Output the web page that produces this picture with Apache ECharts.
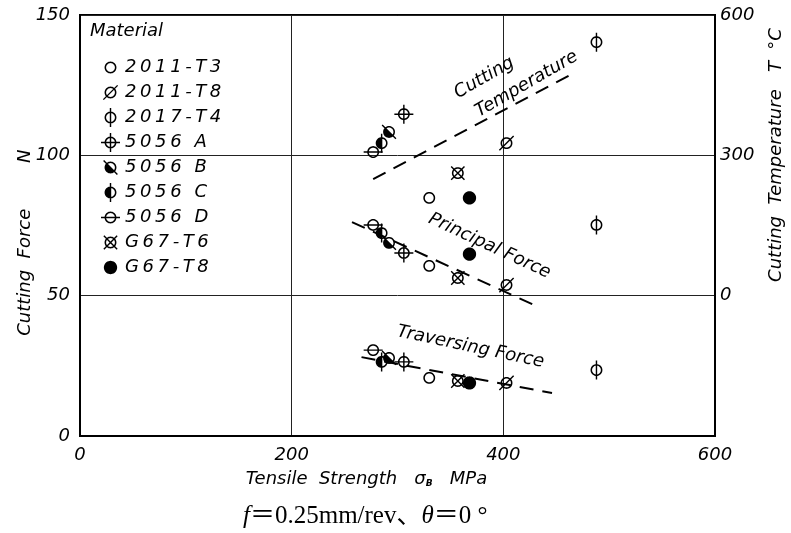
<!DOCTYPE html>
<html>
<head>
<meta charset="utf-8">
<script src="https://cdn.jsdelivr.net/npm/echarts@6/dist/echarts.min.js"></script>
<style>
  html, body { margin: 0; background: #fff; }
  #chart { width: 791px; height: 533px; }
</style>
</head>
<body>
<div id="chart"></div>
<script>
// values
var materials = ['2011-T3', '2011-T8', '2017-T4', '5056 A', '5056 B', '5056 C', '5056 D', 'G67-T6', 'G67-T8'];
var strength = [330, 403, 488, 306, 292, 285, 277, 357, 368];          // MPa
var principalForce = [60.6, 53.8, 75.2, 65.2, 68.8, 72.3, 75.2, 56.3, 64.8];  // N
var traversingForce = [20.7, 18.9, 23.5, 26.4, 27.8, 26.4, 30.6, 19.6, 18.9]; // N
var temperature = [209, 326, 542, 388, 350, 326, 307, 262, 209];        // deg C
var tempTrend = [[277, 249], [466, 475]];
var principalTrend = [[257, 76.2], [433, 46.0]];
var traverseTrend = [[266, 28.1], [446, 15.3]];
var forceTicks = [0, 50, 100, 150];
var tempTicks = [-300, 0, 300, 600];

var font = '"DejaVu Sans"';

// glyph helpers: everything is built as filled polygons in a -8..8 box
function arcPts(r, a0, a1, n) {
  var out = [];
  for (var k = 0; k <= n; k++) {
    var a = a0 + (a1 - a0) * k / n;
    out.push([r * Math.cos(a), r * Math.sin(a)]);
  }
  return out;
}
function poly(p, sign) {
  var area = 0;
  for (var i = 0; i < p.length; i++) {
    var q = p[(i + 1) % p.length];
    area += p[i][0] * q[1] - q[0] * p[i][1];
  }
  if (area * sign < 0) p = p.slice().reverse();
  return 'M ' + p.map(function (q) { return q[0].toFixed(2) + ' ' + q[1].toFixed(2); }).join(' L ') + ' Z';
}
function bar(x1, y1, x2, y2, w) {
  var dx = x2 - x1, dy = y2 - y1, l = Math.sqrt(dx * dx + dy * dy);
  var nx = -dy / l * w / 2, ny = dx / l * w / 2;
  return poly([[x1 + nx, y1 + ny], [x2 + nx, y2 + ny], [x2 - nx, y2 - ny], [x1 - nx, y1 - ny]], 1);
}
var R = 5, T = 1.3, W = 1.2, PI = Math.PI;
var ring = [poly(arcPts(R, 0, 2 * PI, 40), 1), poly(arcPts(R - T, 0, 2 * PI, 40), -1)];
function half(a0, a1) { return poly(arcPts(R - 0.3, a0, a1, 20), 1); }
function glyph(parts) {
  return 'path://' + parts.join(' ') + ' M -8 -8 L -8 -8 Z M 8 8 L 8 8 Z';
}
var glyphs = {
  '2011-T3': glyph(ring),
  '2011-T8': glyph(ring.concat([bar(-6, 6, 6, -6, W)])),
  '2017-T4': glyph(ring.concat([bar(0, -8, 0, 8, W)])),
  '5056 A': glyph(ring.concat([bar(0, -8, 0, 8, W), bar(-8, 0, 8, 0, W)])),
  '5056 B': glyph(ring.concat([half(PI / 4, 5 * PI / 4), bar(-5.8, -5.8, 5.8, 5.8, W)])),
  '5056 C': glyph(ring.concat([half(PI / 2, 3 * PI / 2), bar(0, -8, 0, 8, W)])),
  '5056 D': glyph(ring.concat([bar(-8, 0, 8, 0, W)])),
  'G67-T6': glyph(ring.concat([bar(-5.6, -5.6, 5.6, 5.6, W), bar(-5.6, 5.6, 5.6, -5.6, W)])),
  'G67-T8': glyph([poly(arcPts(5.6, 0, 2 * PI, 40), 1)])
};

var series = [];
function trend(data, axis) {
  series.push({
    type: 'line', yAxisIndex: axis, data: data, symbol: 'none', silent: true, z: 2,
    lineStyle: { color: '#000', width: 2, type: [14, 9], opacity: 1 }
  });
}
trend(tempTrend, 1);
trend(principalTrend, 0);
trend(traverseTrend, 0);

materials.forEach(function (m, i) {
  var common = { name: m, type: 'scatter', symbol: glyphs[m], symbolSize: 19, z: 3,
    itemStyle: { color: '#000', borderWidth: 0, opacity: 1 } };
  series.push(Object.assign({}, common, {
    yAxisIndex: 0,
    data: [[strength[i], principalForce[i]], [strength[i], traversingForce[i]]]
  }));
  series.push(Object.assign({}, common, {
    yAxisIndex: 1,
    data: [[strength[i], temperature[i]]]
  }));
});

var labelStyle = { fontFamily: font, fontStyle: 'italic', fontSize: 18, color: '#000' };

var option = {
  backgroundColor: '#fff',
  animation: false,
  grid: { left: 80, right: 76, top: 15, bottom: 97, show: true, borderColor: '#000', borderWidth: 2,
    containLabel: false, outerBoundsMode: 'none' },
  title: {
    text: '{i|f}\uFF1D0.25mm/rev\u3001{i|\u03B8}\uFF1D0 \u00B0',
    left: 238, top: 499,
    textStyle: {
      fontFamily: "'Liberation Serif', 'Noto Sans CJK JP'", fontSize: 25, fontWeight: 'normal', color: '#000',
      rich: { i: { fontFamily: "'Liberation Serif'", fontStyle: 'italic', fontSize: 25, color: '#000' } }
    }
  },
  legend: {
    data: materials, orient: 'vertical', left: 96, top: 53,
    itemWidth: 19, itemHeight: 19, itemGap: 6, selectedMode: false,
    itemStyle: { borderWidth: 0, opacity: 1 },
    textStyle: labelStyle,
    formatter: function (n) { return n.split('').join('\u2009'); }
  },
  xAxis: {
    type: 'value', min: 0, max: 600, interval: 200,
    name: 'Tensile  Strength   \u03C3{sub|B}   MPa', nameLocation: 'middle', nameGap: 34,
    nameMoveOverlap: false,
    nameTextStyle: Object.assign({}, labelStyle, { padding: [0, 62, 0, 0],
      rich: { sub: { fontFamily: font, fontSize: 9, fontWeight: 'bold', color: '#000', verticalAlign: 'bottom', padding: [6, 0, 0, 0] } } }),
    axisLine: { lineStyle: { color: '#000', width: 2 } },
    axisTick: { show: false },
    axisLabel: Object.assign({}, labelStyle, { margin: 10, showMinLabel: true, showMaxLabel: true }),
    splitLine: { show: true, lineStyle: { color: '#222', width: 1 } }
  },
  yAxis: [{
    type: 'value', min: forceTicks[0], max: forceTicks[3], interval: 50,
    name: 'Cutting  Force        N      ', nameLocation: 'middle', nameRotate: 90, nameGap: 46,
    nameMoveOverlap: false,
    nameTextStyle: labelStyle,
    axisLine: { show: true, lineStyle: { color: '#000', width: 2 } },
    axisTick: { show: false },
    axisLabel: Object.assign({}, labelStyle, { margin: 10, showMinLabel: true, showMaxLabel: true }),
    splitLine: { show: true, lineStyle: { color: '#222', width: 1 } }
  }, {
    type: 'value', min: tempTicks[0], max: tempTicks[3], interval: 300, position: 'right',
    axisLine: { show: true, lineStyle: { color: '#000', width: 2 } },
    axisTick: { show: false },
    axisLabel: Object.assign({}, labelStyle, { margin: 5, showMinLabel: true, showMaxLabel: true,
      formatter: function (v) { return v < 0 ? '' : String(v); } }),
    splitLine: { show: false }
  }],
  series: series
};

var chart = echarts.init(document.getElementById('chart'), null, { renderer: 'canvas' });
chart.setOption(option);

// curve labels, placed in data units of the force axis
var notes = [
  { text: 'Cutting', at: [382, 127.6], angle: 30 },
  { text: 'Temperature', at: [422, 125.4], angle: 30 },
  { text: 'Principal Force', at: [387, 67.7], angle: -25 },
  { text: 'Traversing Force', at: [369, 31.7], angle: -12 }
];
var graphics = notes.map(function (n) {
  var p = chart.convertToPixel({ gridIndex: 0 }, n.at);
  return { type: 'text', x: p[0], y: p[1], rotation: n.angle * PI / 180, z: 10,
    style: { text: n.text, font: 'italic 18px ' + font, fill: '#000', align: 'center', verticalAlign: 'middle' } };
});
graphics.push({ type: 'text', left: 90, top: 22, z: 10,
  style: { text: 'Material', font: 'italic 18px ' + font, fill: '#000' } });
graphics.push({ type: 'text', x: 776, y: 155, rotation: PI / 2, z: 10,
  style: { text: 'Cutting  Temperature   T  \u00B0C', font: 'italic 18px ' + font, fill: '#000', align: 'center', verticalAlign: 'middle' } });
chart.setOption({ graphic: graphics });
</script>
</body>
</html>
